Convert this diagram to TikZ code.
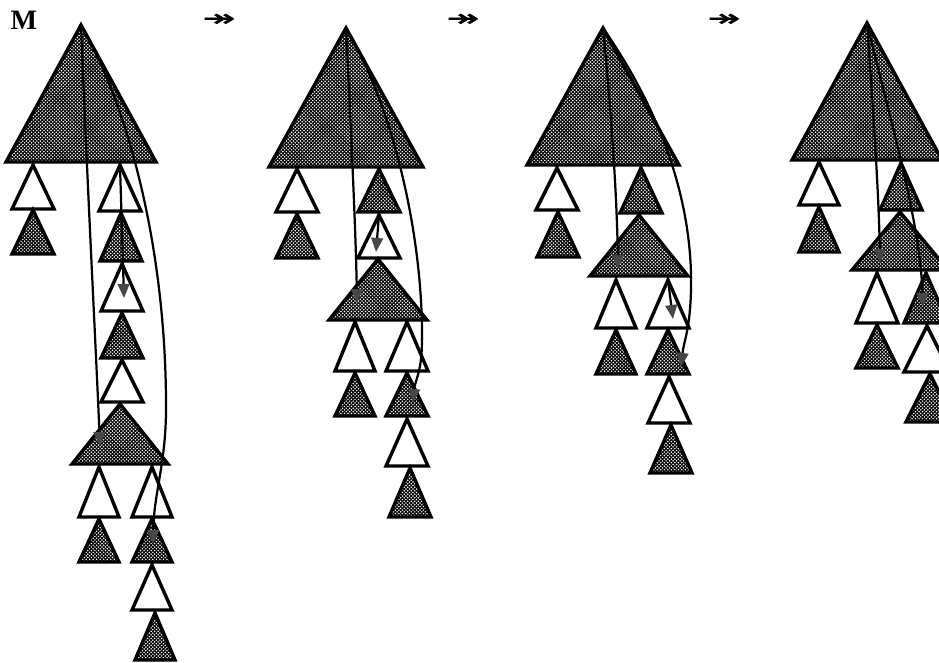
\documentclass[tikz,border=0pt]{standalone}
\usepackage{fontspec}
\usepackage{tikz}
\usetikzlibrary{arrows.meta, patterns}
\newfontfamily\arrowfont[FakeBold=1.5]{DejaVu Sans}
\newfontfamily\labelfont{Liberation Serif}

% white dots for the shaded triangles
\pgfdeclarepatternformonly{stipple}{\pgfqpoint{-1pt}{-1pt}}{\pgfqpoint{4pt}{4pt}}{\pgfqpoint{3pt}{3pt}}{%
  \pgfpathcircle{\pgfqpoint{0pt}{0pt}}{0.72pt}%
  \pgfpathcircle{\pgfqpoint{1.5pt}{1.5pt}}{0.72pt}%
  \pgfusepath{fill}}

% triangle: style, name of apex, apex x, apex y, half width, height
\newcommand{\trg}[6]{\draw[#1] (#3,#4) coordinate (#2) -- ++(#5,#6) -- ++({-2*(#5)},0) -- cycle;}

\begin{document}
\begin{tikzpicture}[
    x=0.03cm, y=-0.03cm,
    open/.style={draw=black, line width=2.9pt, fill=white},
    dark/.style={draw=black, line width=2.9pt, preaction={fill=black}, pattern=stipple, pattern color=white},
    trail/.style={line width=1.9pt, -{Triangle[length=12pt, width=10pt, color=black!72]}},
    sym/.style={inner sep=0pt, font=\arrowfont\fontsize{22}{22}\selectfont}
]
\clip (0,0) rectangle (939,663);

\node[font=\labelfont\bfseries\fontsize{24}{24}\selectfont] (label) at (24,20) {M};
\node[sym] (go1) at (219,20) {\scalebox{1.5}[0.9]{↠}};
\node[sym] (go2) at (463,20) {\scalebox{1.5}[0.9]{↠}};
\node[sym] (go3) at (724,20) {\scalebox{1.5}[0.9]{↠}};

% first tree
\trg{dark}{root1}{81}{25}{75}{137}
\trg{open}{left1a}{33}{165}{21}{44}
\trg{dark}{left1b}{33}{210}{21}{44}
\trg{open}{mid1a}{120}{165}{21}{46}
\trg{dark}{mid1b}{121}{213}{21}{48}
\trg{open}{mid1c}{122}{264}{21}{47}
\trg{dark}{mid1d}{122}{313}{21}{45}
\trg{open}{mid1e}{122}{360}{21}{42}
\trg{dark}{sub1}{120}{404}{48}{60}
\trg{open}{sub1la}{99}{467}{20}{50}
\trg{dark}{sub1lb}{99}{519}{20}{43}
\trg{open}{sub1ra}{152}{467}{20}{50}
\trg{dark}{sub1rb}{152}{519}{20}{43}
\trg{open}{sub1rc}{152}{565}{20}{45}
\trg{dark}{sub1rd}{155}{613}{20}{47}

\coordinate (tip1a) at (100,446);
\coordinate (tip1b) at (153,544);
\coordinate (tip1c) at (124,298);
\draw[trail] (root1) .. controls (88,200) and (96,350) .. (tip1a);
\draw[trail] (root1) .. controls (130,110) and (165,250) .. (166,400) .. controls (167,462) and (154,490) .. (tip1b);
\draw[trail] (mid1a) -- (tip1c);

% second tree
\trg{dark}{root2}{346}{28}{77}{139}
\trg{open}{left2a}{297}{169}{21}{43}
\trg{dark}{left2b}{297}{214}{21}{44}
\trg{dark}{mid2a}{379}{169}{21}{43}
\trg{open}{mid2b}{379}{215}{21}{43}
\trg{dark}{sub2}{378}{259}{49}{61}
\trg{open}{sub2la}{355}{322}{20}{49}
\trg{dark}{sub2lb}{355}{373}{20}{43}
\trg{open}{sub2ra}{407}{322}{21}{49}
\trg{dark}{sub2rb}{407}{373}{21}{43}
\trg{open}{sub2rc}{407}{419}{21}{47}
\trg{dark}{sub2rd}{410}{468}{21}{49}

\coordinate (tip2a) at (357,303);
\coordinate (tip2b) at (413,403);
\coordinate (tip2c) at (376,252);
\draw[trail] (root2) .. controls (352,150) and (356,240) .. (tip2a);
\draw[trail] (root2) .. controls (395,110) and (423,240) .. (422,340) .. controls (422,372) and (415,380) .. (tip2b);
\draw[trail] (mid2b) -- (tip2c);

% third tree
\trg{dark}{root3}{603}{28}{76}{137}
\trg{open}{left3a}{557}{168}{21}{42}
\trg{dark}{left3b}{558}{212}{21}{45}
\trg{dark}{mid3a}{641}{168}{21}{45}
\trg{dark}{sub3}{639}{215}{49}{61}
\trg{open}{sub3la}{616}{280}{20}{48}
\trg{dark}{sub3lb}{616}{330}{20}{44}
\trg{open}{sub3ra}{668}{280}{21}{48}
\trg{dark}{sub3rb}{668}{330}{21}{44}
\trg{open}{sub3rc}{669}{377}{21}{46}
\trg{dark}{sub3rd}{671}{425}{21}{48}

\coordinate (tip3a) at (618,269);
\coordinate (tip3b) at (681,367);
\coordinate (tip3c) at (673,319);
\draw[trail] (root3) .. controls (612,120) and (617,200) .. (tip3a);
\draw[trail] (root3) .. controls (660,110) and (693,200) .. (691,290) .. controls (690,330) and (684,340) .. (tip3b);
\draw[trail] (sub3ra) -- (tip3c);

% fourth tree
\trg{dark}{root4}{867}{23}{75}{137}
\trg{open}{left4a}{819}{162}{20}{43}
\trg{dark}{left4b}{819}{207}{20}{45}
\trg{dark}{mid4a}{901}{163}{21}{47}
\trg{dark}{sub4}{900}{212}{48}{58}
\trg{open}{sub4la}{877}{273}{21}{50}
\trg{dark}{sub4lb}{877}{325}{21}{43}
\trg{dark}{sub4ra}{926}{273}{22}{50}
\trg{open}{sub4rb}{927}{326}{23}{46}
\trg{dark}{sub4rc}{930}{374}{24}{48}

\coordinate (tip4a) at (880,263);
\coordinate (tip4b) at (923,307);
\draw[trail] (root4) .. controls (874,120) and (879,200) .. (tip4a);
\draw[trail] (root4) .. controls (890,120) and (920,220) .. (tip4b);

\end{tikzpicture}
\end{document}
